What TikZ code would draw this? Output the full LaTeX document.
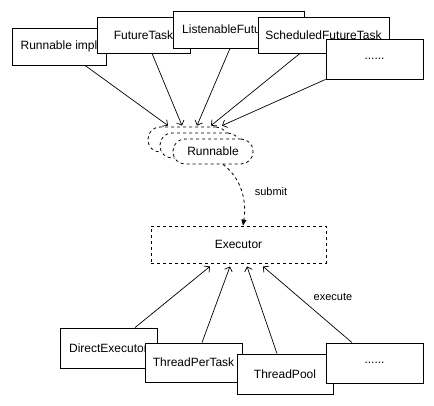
\documentclass[tikz,border=0pt]{standalone}
\usepackage{fontspec}
\setmainfont{Liberation Sans}
\usetikzlibrary{arrows.meta}
\begin{document}
\begin{tikzpicture}[x=1pt,y=-1pt,
  box/.style={draw,fill=white,line width=0.8pt,inner sep=0pt,font=\fontsize{12}{14}\selectfont},
  dbox/.style={box,dash pattern=on 3pt off 3pt},
  stadium/.style={dbox,rounded corners=12pt,minimum width=80pt,minimum height=25pt},
  conn/.style={line width=0.7pt,-{Straight Barb[length=4pt,width=8pt]}},
  txt/.style={inner sep=0pt,font=\fontsize{12}{14}\selectfont},
  lbl/.style={font=\fontsize{11}{13}\selectfont,inner sep=0pt}]
\useasboundingbox (0,0) rectangle (434,405);
% top boxes
\node[box,minimum width=94pt,minimum height=37pt] (rimpl) at (59,46.5) {Runnable impl};
\node[box,minimum width=93pt,minimum height=36pt] (ft) at (143.5,35) {FutureTask};
\node[box,minimum width=131pt,minimum height=37pt] (lf) at (238.5,29.5) {};
\node[txt,anchor=west] (lftext) at (182,29.5) {ListenableFutu};
\node[box,minimum width=131pt,minimum height=36pt] (sft) at (323.5,35) {ScheduledFutureTask};
\node[box,minimum width=97pt,minimum height=40pt] (tdots) at (374.5,59) {......};
% runnable stack
\node[stadium] (rback) at (188,139.5) {};
\node[stadium] (rmid) at (200,145.5) {};
\node[stadium] (run) at (213,151.5) {Runnable};
% executor
\node[dbox,minimum width=175pt,minimum height=37pt] (exec) at (238.5,244.5) {Executor};
% bottom boxes
\node[box,minimum width=97pt,minimum height=40pt] (dex) at (108.5,348) {DirectExecutor};
\node[box,minimum width=97pt,minimum height=39pt] (tpt) at (193.5,362.5) {ThreadPerTask};
\node[box,minimum width=96pt,minimum height=40pt] (tp) at (285,374) {ThreadPool};
\node[box,minimum width=97pt,minimum height=40pt] (bdots) at (374.5,363) {......};
% top connectors
\draw[conn] ([xshift=26pt]rimpl.south) -- ([xshift=-20pt,yshift=1pt]rback.north);
\draw[conn] ([xshift=8.5pt]ft.south) -- ([xshift=-6pt,yshift=1pt]rback.north);
\draw[conn] ([xshift=-8.5pt]lf.south) -- ([xshift=9pt,yshift=1pt]rback.north);
\draw[conn] ([xshift=-23.5pt]sft.south) -- ([xshift=23pt,yshift=1pt]rback.north);
\draw[conn] (tdots.south west) -- ([xshift=34pt,yshift=1pt]rback.north);
% submit
\draw[line width=0.8pt,dash pattern=on 3pt off 3pt,-{Triangle[length=6pt,width=5pt]}]
  ([xshift=10pt]run.south) .. controls (241,178) and (247,200) .. ([xshift=4.5pt]exec.north);
\node[lbl] (submit) at (271,192) {submit};
% bottom connectors
\draw[conn] ([xshift=26.5pt]dex.north) -- ([xshift=-28.5pt,yshift=-3pt]exec.south);
\draw[conn] ([xshift=8.5pt]tpt.north) -- ([xshift=-8.5pt,yshift=-3pt]exec.south);
\draw[conn] ([xshift=-8pt]tp.north) -- ([xshift=8.5pt,yshift=-3pt]exec.south);
\draw[conn] ([xshift=-22.5pt]bdots.north) -- ([xshift=24.5pt,yshift=-3pt]exec.south);
\node[lbl] (execute) at (333,297) {execute};
\end{tikzpicture}
\end{document}
